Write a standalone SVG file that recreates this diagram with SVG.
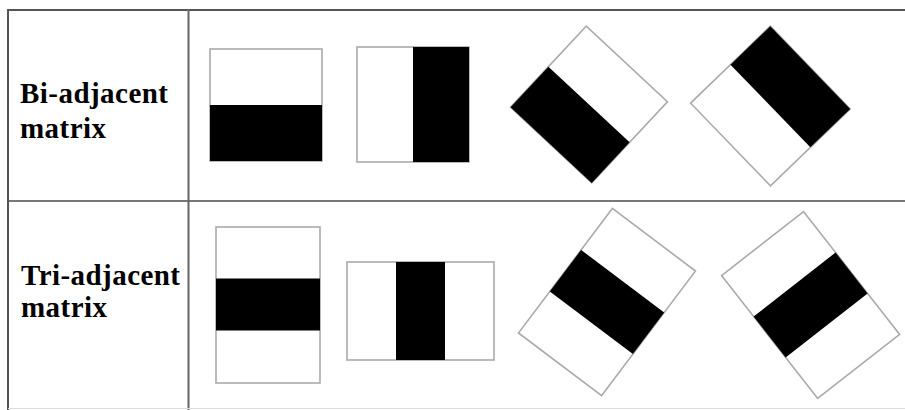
<svg xmlns="http://www.w3.org/2000/svg" width="905" height="410" viewBox="0 0 905 410">
<style>
.grid{stroke:#555;stroke-width:2;fill:none}
.box{fill:#fff;stroke:#aaa;stroke-width:1.6}
.blk{fill:#000}
.lbl{font-family:"Liberation Serif","Times New Roman",serif;font-weight:bold;font-size:29px;fill:#000}
</style>
<rect width="905" height="410" fill="#fff"/>
<g id="table" class="grid">
<line x1="8" y1="10" x2="905" y2="10"/>
<line x1="8" y1="201" x2="905" y2="201" stroke="#777"/>
<line x1="8" y1="9" x2="8" y2="410"/>
<line x1="188.5" y1="9" x2="188.5" y2="410" stroke="#666"/>
<line x1="8" y1="408.5" x2="905" y2="408.5" stroke="#ddd" stroke-width="1"/>
</g>
<g id="label-bi">
<text class="lbl" x="20" y="103" textLength="148" lengthAdjust="spacing">Bi-adjacent</text>
<text class="lbl" x="20" y="138" textLength="86" lengthAdjust="spacing">matrix</text>
</g>
<g id="label-tri">
<text class="lbl" x="21" y="285" textLength="159" lengthAdjust="spacing">Tri-adjacent</text>
<text class="lbl" x="21" y="317" textLength="86" lengthAdjust="spacing">matrix</text>
</g>
<g id="bi-1">
<rect class="box" x="210" y="49" width="112" height="112"/>
<rect class="blk" x="210" y="105" width="112" height="56"/>
</g>
<g id="bi-2">
<rect class="box" x="357" y="47" width="112" height="115"/>
<rect class="blk" x="413" y="47" width="56" height="115"/>
</g>
<g id="bi-3" transform="translate(589 104.5) rotate(43)">
<rect class="box" x="-55.5" y="-55.5" width="111" height="111"/>
<rect class="blk" x="-55.5" y="0" width="111" height="55.5"/>
</g>
<g id="bi-4" transform="translate(770.4 106) rotate(-44)">
<rect class="box" x="-55.4" y="-57.5" width="110.8" height="115"/>
<rect class="blk" x="0" y="-57.5" width="55.4" height="115"/>
</g>
<g id="tri-1">
<rect class="box" x="216" y="227" width="104" height="156"/>
<rect class="blk" x="216" y="278.5" width="104" height="52"/>
</g>
<g id="tri-2">
<rect class="box" x="347" y="262" width="147" height="98"/>
<rect class="blk" x="396" y="262" width="49" height="98"/>
</g>
<g id="tri-3" transform="translate(607 302) rotate(37)">
<rect class="box" x="-52" y="-78" width="104" height="156"/>
<rect class="blk" x="-52" y="-26" width="104" height="52"/>
</g>
<g id="tri-4" transform="translate(810.6 305) rotate(-38)">
<rect class="box" x="-52" y="-78" width="104" height="156"/>
<rect class="blk" x="-52" y="-26" width="104" height="52"/>
</g>
</svg>
